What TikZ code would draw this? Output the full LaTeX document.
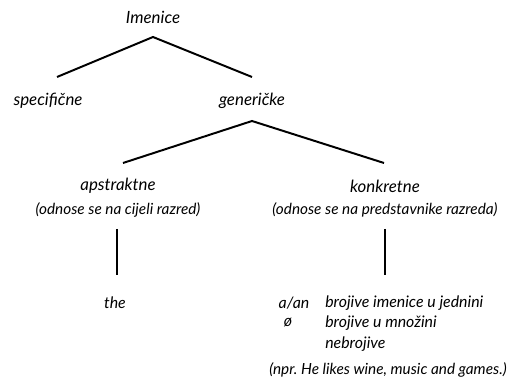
\documentclass[tikz,border=0pt]{standalone}
\usepackage{fontspec}
\setmainfont{Lato}
\frenchspacing
\tikzset{
  lbl/.style={font=\itshape\fontsize{12}{14}\selectfont, inner sep=0pt},
  leaf/.style={font=\itshape\fontsize{11.3}{13}\selectfont, inner sep=0pt},
  sub/.style={font=\itshape\fontsize{10.9}{12}\selectfont, inner sep=0pt},
  branch/.style={line width=1.4pt}
}
\begin{document}
\begin{tikzpicture}[x=0.025cm, y=-0.025cm]
    \useasboundingbox (0,0) rectangle (520,392);

    % top level
    \node[lbl] (imenice) at (153,17) {Imenice};
    \coordinate (imTop) at (153,37);
    \coordinate (specEnd) at (57,77);
    \coordinate (genEnd) at (252,77);
    \draw[branch] (specEnd) -- (imTop) -- (genEnd);

    \node[lbl] (spec) at (48,101) {specifične};
    \node[lbl] (gen) at (252,101) {generičke};

    % second level
    \coordinate (genTop) at (252,121);
    \coordinate (apsEnd) at (123,163);
    \coordinate (konEnd) at (384,163);
    \draw[branch] (apsEnd) -- (genTop) -- (konEnd);

    \node[lbl] (aps) at (118,186) {apstraktne};
    \node[sub] (apsSub) at (118,210) {(odnose se na cijeli razred)};
    \node[lbl] (kon) at (385,186) {konkretne};
    \node[sub] (konSub) at (385,210) {(odnose se na predstavnike razreda)};

    % leaves
    \coordinate (apsDown) at (117,229);
    \coordinate (theUp) at (117,275);
    \draw[branch] (apsDown) -- (theUp);
    \coordinate (konDown) at (385,229);
    \coordinate (artUp) at (385,275);
    \draw[branch] (konDown) -- (artUp);

    \node[leaf] (the) at (115,303) {the};

    \node[leaf] (aan) at (294,303) {a/an};
    \node[leaf] (zero) at (288,323) {ø};
    \node[leaf, anchor=west] (jed) at (325,303) {brojive imenice u jednini};
    \node[leaf, anchor=west] (mno) at (325,323) {brojive u množini};
    \node[leaf, anchor=west] (nebr) at (325,344) {nebrojive};
    \node[sub] (npr) at (388,370) {(npr. He likes wine, music and games.)};
\end{tikzpicture}
\end{document}
